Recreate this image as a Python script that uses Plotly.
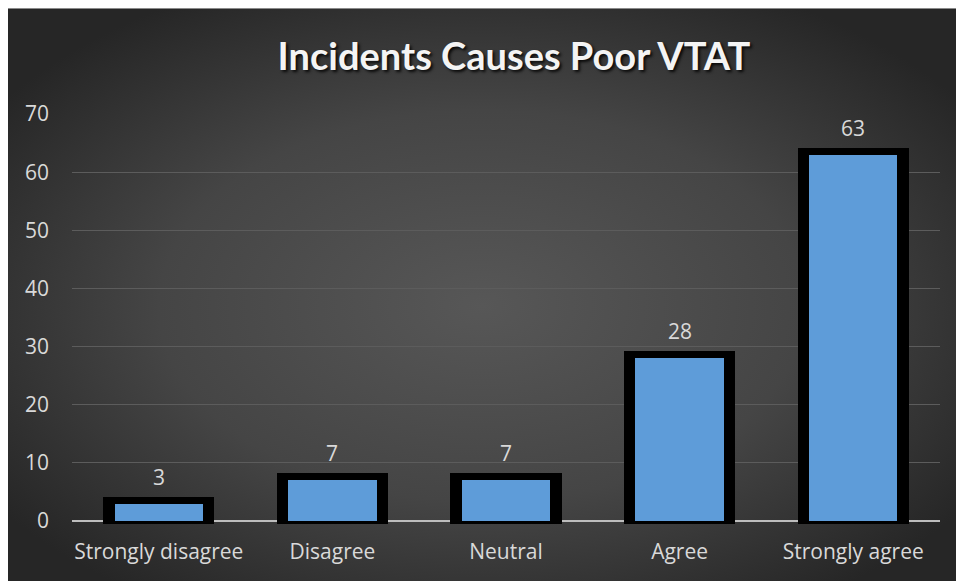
import base64
import plotly.graph_objects as go

# Survey responses
categories = ["Strongly disagree", "Disagree", "Neutral", "Agree", "Strongly agree"]
counts = [3, 7, 7, 28, 63]
y_ticks = [0, 10, 20, 30, 40, 50, 60, 70]

W, H = 956, 581
M_L, M_R, M_T, M_B = 72, 16, 114, 57
plot_w = W - M_L - M_R
plot_h = H - M_T - M_B

TEXT_COL = "#d9d9d9"
FONT = "Open Sans"
TITLE_FONT = "Lato"
LABEL_SIZE = 21

# Dark radial-gradient backdrop as an inline SVG
svg = (
    '<svg xmlns="http://www.w3.org/2000/svg" width="948" height="573" '
    'viewBox="0 0 948 573" preserveAspectRatio="none">'
    '<defs><radialGradient id="g" cx="50%" cy="52%" r="62%">'
    '<stop offset="0%" stop-color="#575757"/>'
    '<stop offset="55%" stop-color="#454545"/>'
    '<stop offset="100%" stop-color="#262626"/>'
    '</radialGradient></defs>'
    '<rect width="948" height="573" fill="url(#g)"/>'
    '<line x1="0" y1="0.5" x2="948" y2="0.5" stroke="#8a8a8a" stroke-width="1"/>'
    '</svg>'
)
bg_src = "data:image/svg+xml;base64," + base64.b64encode(svg.encode()).decode()

def px_to_paper_x(px):
    return (px - M_L) / plot_w

def px_to_paper_y(py):
    return (H - M_B - py) / plot_h

fig = go.Figure()

# Thick black frame behind each bar
fig.add_trace(go.Bar(
    x=categories, y=counts, width=0.561,
    marker=dict(color="#000000", line=dict(color="#000000", width=14)),
    hoverinfo="skip", showlegend=False,
))
# Blue bar fill
fig.add_trace(go.Bar(
    x=categories, y=counts, width=0.509,
    marker=dict(color="#5e9cd9", line=dict(width=0)),
    showlegend=False,
))

# Value labels above the bars
for c, v in zip(categories, counts):
    fig.add_annotation(
        x=c, y=v, text=str(v), showarrow=False, yanchor="bottom",
        yshift=11, font=dict(family=FONT, size=LABEL_SIZE, color=TEXT_COL),
    )

fig.add_layout_image(
    source=bg_src, xref="paper", yref="paper",
    x=px_to_paper_x(8), y=px_to_paper_y(8),
    sizex=(W - 8) / plot_w, sizey=(H - 8) / plot_h,
    xanchor="left", yanchor="top", sizing="stretch", layer="below",
)

fig.update_layout(
    width=W, height=H,
    margin=dict(l=M_L, r=M_R, t=M_T, b=M_B),
    paper_bgcolor="#ffffff",
    plot_bgcolor="rgba(0,0,0,0)",
    barmode="overlay",
    bargap=0,
    title=dict(
        text="<b>Incidents Causes Poor VTAT</b>",
        x=px_to_paper_x(514), xref="paper", xanchor="center",
        y=1 - 57 / H, yref="container", yanchor="middle",
        font=dict(family=TITLE_FONT, size=38, color="#f4f4f4",
                  shadow="2px 2px 3px rgba(0,0,0,0.85)"),
    ),
    xaxis=dict(
        showgrid=False, showline=False, zeroline=False,
        ticks="", tickfont=dict(family=FONT, size=LABEL_SIZE, color=TEXT_COL),
        ticklabelstandoff=13,
    ),
    yaxis=dict(
        range=[-0.5, 70], tickvals=y_ticks,
        showgrid=True, gridcolor="#5c5c5c", gridwidth=1,
        zeroline=True, zerolinecolor="#bdbdbd", zerolinewidth=2,
        showline=False, ticks="",
        tickfont=dict(family=FONT, size=LABEL_SIZE, color=TEXT_COL),
        ticklabelstandoff=22,
    ),
    font=dict(family=FONT, color=TEXT_COL),
)

fig.write_html("out.html")
